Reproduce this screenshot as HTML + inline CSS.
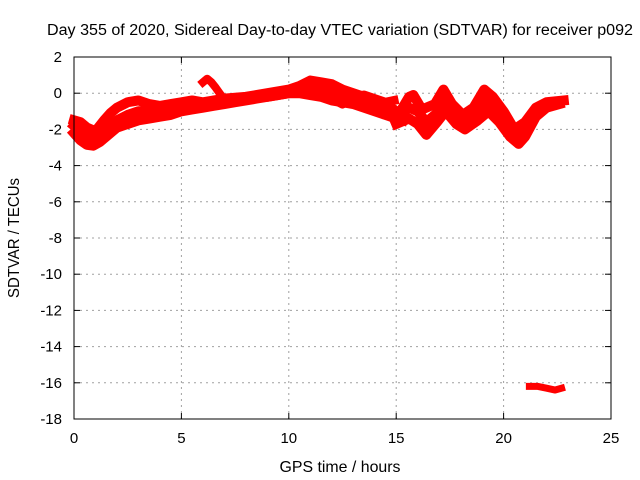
<!DOCTYPE html>
<html><head><meta charset="utf-8"><style>
body{margin:0;background:#fff}
svg{display:block;font-family:"Liberation Sans",sans-serif}
</style></head><body>
<svg id="chart" width="640" height="480">
<text x="340" y="35" font-size="15.5" text-anchor="middle" textLength="586" lengthAdjust="spacingAndGlyphs">Day 355 of 2020, Sidereal Day-to-day VTEC variation (SDTVAR) for receiver p092</text>
<text x="340" y="472" font-size="16" text-anchor="middle" textLength="121" lengthAdjust="spacingAndGlyphs">GPS time / hours</text>
<text transform="translate(19,238) rotate(-90)" font-size="16" text-anchor="middle" textLength="120" lengthAdjust="spacingAndGlyphs">SDTVAR / TECUs</text>
<g id="grid"></g><g id="ticks"></g><g id="marks"></g>
<rect x="74" y="57" width="537" height="362" fill="none" stroke="#000" stroke-width="1"/>
</svg>
<script>
const xTicks=[0,5,10,15,20,25];
const yTicks=[2,0,-2,-4,-6,-8,-10,-12,-14,-16,-18];
const track1T=[0,0.3,0.6,0.9,1.2,1.6,2,2.5,3,3.5,4,4.5,5,5.5,6,6.5,7,7.5,8,8.5,9,9.5,10,10.5,11,11.5,12,12.5,13,13.5,14,14.5,15,15.3];
const track1V=[-2.2,-2.6,-2.85,-2.9,-2.7,-2.3,-1.9,-1.7,-1.5,-1.4,-1.3,-1.2,-1.0,-0.9,-0.8,-0.7,-0.6,-0.5,-0.4,-0.3,-0.2,-0.1,0,0,-0.1,-0.2,-0.4,-0.5,-0.6,-0.8,-1.0,-1.2,-1.4,-1.5];
const track2T=[0,0.3,0.6,1.0,1.4,1.7,2,2.5,3,3.5,4,4.5,5,5.5,6,7,8,9,10,10.5,11,11.5,12,12.5,13,13.5,14,14.5,15];
const track2V=[-1.5,-1.6,-1.9,-2.1,-1.5,-1.1,-0.8,-0.5,-0.4,-0.6,-0.7,-0.6,-0.5,-0.4,-0.5,-0.3,-0.2,0,0.2,0.4,0.7,0.6,0.5,0.2,0,-0.2,-0.4,-0.6,-1.0];
const track7T=[0,0.4,0.8,1.2,1.6,2,2.5,3,3.5,4,5,6,7,8,9,10,11,12,13,14,15];
const track7V=[-1.8,-2.2,-2.5,-2.4,-2.0,-1.5,-1.2,-1.0,-1.0,-1.0,-0.8,-0.6,-0.4,-0.3,-0.2,0,0.3,0,-0.3,-0.6,-1.1];
const track3T=[6,6.2,6.4,6.6,6.9];
const track3V=[0.6,0.8,0.6,0.3,-0.2];
const track4T=[10.5,11,11.5,12,12.5,13,13.5,14,14.5,14.9];
const track4V=[0.2,0.5,0.3,-0.3,-0.6,-0.2,-0.1,-0.3,-0.5,-0.4];
const track5T=[15.2,15.6,15.8,16.2,16.8,17.2,17.6,18.1,18.6,19.1,19.5,20.0,20.5,21.0,21.5,22,22.8];
const track5V=[-1.0,-0.2,-0.1,-0.9,-0.6,0.2,-0.6,-1.2,-0.8,0.2,-0.2,-1.0,-2.0,-1.6,-0.8,-0.5,-0.4];
const track6T=[15.0,15.6,16.0,16.4,16.9,17.3,17.8,18.2,18.8,19.3,19.8,20.3,20.7,21.0,21.5,22,22.6];
const track6V=[-1.7,-1.4,-1.7,-2.3,-1.6,-1.0,-1.7,-2.0,-1.5,-1.0,-1.6,-2.4,-2.8,-2.4,-1.3,-0.8,-0.6];
const track8T=[15.1,15.6,16.0,16.4,16.9,17.3,17.8,18.2,18.8,19.2,19.7,20.2,20.6,21.0,21.5,22];
const track8V=[-1.3,-0.8,-1.0,-1.6,-1.1,-0.4,-1.2,-1.6,-1.2,-0.4,-0.9,-1.7,-2.4,-2.0,-1.0,-0.7];
const outlierT=[21.2,21.6,22,22.4,22.7];
const outlierV=[-16.2,-16.2,-16.3,-16.4,-16.3];

const NS="http://www.w3.org/2000/svg";
const xs=t=>74+t*537/25;
const ys=v=>57+(2-v)*362/20;
function mk(tag,attrs,parent){const e=document.createElementNS(NS,tag);for(const k in attrs)e.setAttribute(k,attrs[k]);document.getElementById(parent).appendChild(e);return e;}
xTicks.forEach(t=>{
  if(t>0&&t<25){const g=mk('line',{x1:xs(t),x2:xs(t),y1:57,y2:419,stroke:'#a0a0a0','stroke-dasharray':'2,4'},'grid');
  
  }
  const l=mk('text',{x:xs(t),y:443,'font-size':15,'text-anchor':'middle'},'ticks');l.textContent=t;
  
  
  mk('line',{x1:xs(t),x2:xs(t),y1:419,y2:413,stroke:'#000'},'ticks');
  mk('line',{x1:xs(t),x2:xs(t),y1:57,y2:63,stroke:'#000'},'ticks');
});
yTicks.forEach(v=>{
  if(v<2&&v>-18){const g=mk('line',{x1:74,x2:611,y1:ys(v),y2:ys(v),stroke:'#a0a0a0','stroke-dasharray':'2,4'},'grid');
  
  }
  const l=mk('text',{x:62,y:ys(v)+5,'font-size':15,'text-anchor':'end'},'ticks');l.textContent=v;
  
  
  mk('line',{x1:74,x2:80,y1:ys(v),y2:ys(v),stroke:'#000'},'ticks');
  mk('line',{x1:611,x2:605,y1:ys(v),y2:ys(v),stroke:'#000'},'ticks');
});
function track(T,V,w,name){
  const p=mk('polyline',{points:T.map((t,i)=>xs(t)+','+ys(V[i])).join(' '),fill:'none',stroke:'#ff0000','stroke-width':w,'stroke-linejoin':'round','stroke-linecap':'square'},'marks');
  
  
}
track(track1T,track1V,10,'series-track-1');
track(track2T,track2V,10,'series-track-2');
track(track7T,track7V,10,'series-track-7');
track(track3T,track3V,8,'series-track-3');
track(track4T,track4V,9,'series-track-4');
track(track5T,track5V,10,'series-track-5');
track(track6T,track6V,10,'series-track-6');
track(track8T,track8V,10,'series-track-8');
track(outlierT,outlierV,7,'series-outlier');
</script>
</body></html>
